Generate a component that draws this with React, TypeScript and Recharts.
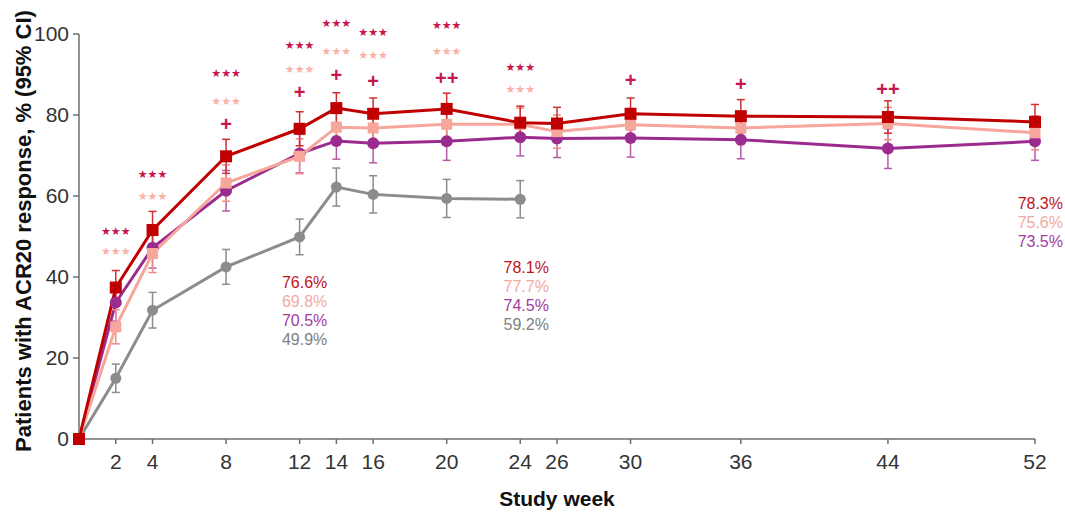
import React from 'react';
import { LineChart, Line, XAxis, YAxis, ErrorBar, ReferenceDot } from 'recharts';

// ---------------- data ----------------
const weeks = [0, 2, 4, 8, 12, 14, 16, 20, 24, 26, 30, 36, 44, 52];
const grayWeeks = [0, 2, 4, 8, 12, 14, 16, 20, 24];
const xTicks = [2, 4, 8, 12, 14, 16, 20, 24, 26, 30, 36, 44, 52];
const yTicks = [0, 20, 40, 60, 80, 100];

const redValues = [0, 37.4, 51.6, 69.8, 76.6, 81.7, 80.3, 81.5, 78.1, 77.9, 80.3, 79.7, 79.5, 78.3];
const redErr = [0, 4.2, 4.6, 4.2, 4.2, 3.8, 3.9, 3.9, 4.1, 4.0, 3.9, 4.1, 4.0, 4.3];
const salmonValues = [0, 27.7, 45.8, 63.2, 69.8, 77.0, 76.8, 77.7, 77.7, 75.9, 77.6, 76.8, 77.9, 75.6];
const salmonErr = [0, 4.2, 4.7, 4.5, 4.3, 4.0, 4.1, 4.0, 4.0, 4.1, 4.0, 4.1, 4.0, 4.2];
const purpleValues = [0, 33.7, 47.2, 61.3, 70.5, 73.6, 73.0, 73.5, 74.5, 74.2, 74.3, 73.9, 71.7, 73.5];
const purpleErr = [0, 4.6, 5.0, 5.0, 4.8, 4.5, 4.8, 4.7, 4.6, 4.7, 4.7, 4.7, 4.9, 4.7];
const grayValues = [0, 15.0, 31.8, 42.5, 49.9, 62.2, 60.4, 59.4, 59.2];
const grayErr = [0, 3.5, 4.4, 4.3, 4.4, 4.7, 4.6, 4.7, 4.6];

// significance annotations
const starWeeks = [2, 4, 8, 12, 14, 16, 20, 24];
const starText = '★★★';
const plusWeeks = [8, 12, 14, 16, 20, 30, 36, 44];
const plusTexts = ['+', '+', '+', '+', '++', '+', '+', '++'];

// value call-outs
const week12Texts = ['76.6%', '69.8%', '70.5%', '49.9%'];
const week24Texts = ['78.1%', '77.7%', '74.5%', '59.2%'];
const week52Texts = ['78.3%', '75.6%', '73.5%'];

// ---------------- layout (annotation anchors, in data units) ----------------
const darkStarY = [51.4, 65.4, 90.4, 97.3, 102.7, 100.5, 102.2, 91.9];
const lightStarY = [46.4, 60.0, 83.5, 91.4, 95.8, 94.8, 95.8, 86.4];
const plusY = [77.8, 85.7, 89.9, 88.4, 89.1, 88.6, 87.7, 86.4];
const week12Y = [38.8, 34.1, 29.4, 24.7];
const week24Y = [42.5, 37.8, 33.1, 28.4];
const week52Y = [58.3, 53.6, 48.9];

const C = {
  red: '#c00000',
  salmon: '#f6a69b',
  purple: '#9b2c8f',
  gray: '#8c8c8c',
  star: '#c8174f',
  lightStar: '#f9b1a8',
  lblRed: '#c0141c',
  lblSalmon: '#f3a99f',
  lblPurple: '#a23c9d',
  lblGray: '#808080',
  axis: '#6e6e6e',
  tick: '#333333',
};
const FONT = '"Liberation Sans", Arial, Helvetica, sans-serif';
const STAR_FONT = '"DejaVu Sans", sans-serif';

const mk = (xs: number[], vs: number[], es: number[]) =>
  xs.map((w, i) => ({ week: w, value: vs[i], err: es[i] }));

const redData = mk(weeks, redValues, redErr);
const salmonData = mk(weeks, salmonValues, salmonErr);
const purpleData = mk(weeks, purpleValues, purpleErr);
const grayData = mk(grayWeeks, grayValues, grayErr);

const squareDot = (color: string, size: number) => (p: any) => {
  if (p.cx == null || p.cy == null) return <g key={`s${p.index}`} />;
  return (
    <rect key={`s${p.index}`} x={p.cx - size / 2} y={p.cy - size / 2} width={size} height={size} fill={color} />
  );
};
const circleDot = (color: string, r: number) => (p: any) => {
  if (p.cx == null || p.cy == null) return <g key={`c${p.index}`} />;
  return <circle key={`c${p.index}`} cx={p.cx} cy={p.cy} r={r} fill={color} />;
};

const textShape =
  (
    text: string,
    color: string,
    size: number,
    weight: string,
    dy: string,
    dx = 0,
    anchor = 'middle',
    family = FONT,
  ) =>
  (p: any) =>
    (
      <text
        x={p.cx + dx}
        y={p.cy}
        dy={dy}
        textAnchor={anchor}
        fill={color}
        fontSize={size}
        fontWeight={weight}
        fontFamily={family}
      >
        {text}
      </text>
    );

const YLabel = () => (
  <text
    x={23}
    y={231}
    transform="rotate(-90 23 231)"
    textAnchor="middle"
    dominantBaseline="central"
    fontSize={22}
    fontWeight="bold"
    fill="#111"
    fontFamily={FONT}
  >
    Patients with ACR20 response, % (95% CI)
  </text>
);

const XLabel = (p: any) => {
  const vb = p.viewBox || { x: 79, y: 439, width: 956 };
  return (
    <text
      x={vb.x + vb.width / 2}
      y={vb.y + 67}
      textAnchor="middle"
      fontSize={21}
      fontWeight="bold"
      fill="#111"
      fontFamily={FONT}
    >
      Study week
    </text>
  );
};

export default function App() {
  const lineProps = { isAnimationActive: false, activeDot: false as const, strokeWidth: 3 };
  return (
    <div style={{ position: 'absolute', left: 0, top: 0, width: 1065, height: 512, background: '#fff' }}>
      <LineChart width={1065} height={512} margin={{ top: 34, right: 30, bottom: 0, left: 0 }}>
        <XAxis
          dataKey="week"
          type="number"
          domain={[0, 52]}
          ticks={xTicks}
          allowDuplicatedCategory={false}
          height={73}
          tickSize={5}
          tickMargin={10}
          stroke={C.axis}
          strokeWidth={1.5}
          tick={{ fill: C.tick, fontSize: 21, fontFamily: FONT }}
          label={<XLabel />}
        />
        <YAxis
          type="number"
          domain={[0, 100]}
          ticks={yTicks}
          width={79}
          tickSize={6}
          tickMargin={4}
          stroke={C.axis}
          strokeWidth={1.5}
          tick={{ fill: C.tick, fontSize: 21, fontFamily: FONT }}
          label={<YLabel />}
        />
        <Line data={grayData} dataKey="value" stroke={C.gray} dot={circleDot(C.gray, 5.5)} {...lineProps}>
          <ErrorBar dataKey="err" direction="y" width={4} stroke={C.gray} strokeWidth={1.5} />
        </Line>
        <Line data={purpleData} dataKey="value" stroke={C.purple} dot={circleDot(C.purple, 6)} {...lineProps}>
          <ErrorBar dataKey="err" direction="y" width={4} stroke="#b45aa8" strokeWidth={1.5} />
        </Line>
        <Line data={salmonData} dataKey="value" stroke={C.salmon} dot={squareDot(C.salmon, 11)} {...lineProps}>
          <ErrorBar dataKey="err" direction="y" width={4} stroke="#ee8c86" strokeWidth={1.5} />
        </Line>
        <Line data={redData} dataKey="value" stroke={C.red} dot={squareDot(C.red, 12)} {...lineProps}>
          <ErrorBar dataKey="err" direction="y" width={4} stroke="#d03030" strokeWidth={1.5} />
        </Line>

        {starWeeks.map((w, i) => (
          <ReferenceDot
            key={`ds${w}`}
            x={w}
            y={darkStarY[i]}
            r={0}
            ifOverflow="visible"
            shape={textShape(starText, C.star, 11, 'normal', '0.35em', 0, 'middle', STAR_FONT)}
          />
        ))}
        {starWeeks.map((w, i) => (
          <ReferenceDot
            key={`ls${w}`}
            x={w}
            y={lightStarY[i]}
            r={0}
            ifOverflow="visible"
            shape={textShape(starText, C.lightStar, 11, 'normal', '0.35em', 0, 'middle', STAR_FONT)}
          />
        ))}
        {plusWeeks.map((w, i) => (
          <ReferenceDot
            key={`pl${w}`}
            x={w}
            y={plusY[i]}
            r={0}
            ifOverflow="visible"
            shape={textShape(plusTexts[i], C.star, 20, 'bold', '0.34em')}
          />
        ))}
        {week12Texts.map((t, i) => (
          <ReferenceDot
            key={`w12${i}`}
            x={12}
            y={week12Y[i]}
            r={0}
            ifOverflow="visible"
            shape={textShape(t, [C.lblRed, C.lblSalmon, C.lblPurple, C.lblGray][i], 16, 'normal', '0.36em', 5)}
          />
        ))}
        {week24Texts.map((t, i) => (
          <ReferenceDot
            key={`w24${i}`}
            x={24}
            y={week24Y[i]}
            r={0}
            ifOverflow="visible"
            shape={textShape(t, [C.lblRed, C.lblSalmon, C.lblPurple, C.lblGray][i], 16, 'normal', '0.36em', 6)}
          />
        ))}
        {week52Texts.map((t, i) => (
          <ReferenceDot
            key={`w52${i}`}
            x={52}
            y={week52Y[i]}
            r={0}
            ifOverflow="visible"
            shape={textShape(t, [C.lblRed, C.lblSalmon, C.lblPurple][i], 16, 'normal', '0.36em', 28, 'end')}
          />
        ))}
      </LineChart>
    </div>
  );
}
